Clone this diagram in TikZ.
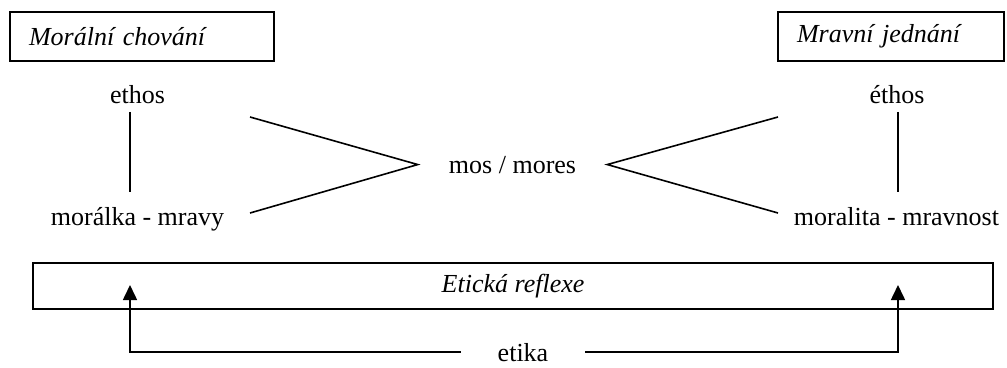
\documentclass[tikz,border=0pt]{standalone}
\usepackage{fontspec}
\setmainfont{Liberation Serif}
\usetikzlibrary{arrows.meta}

\begin{document}
\begin{tikzpicture}[x=1pt, y=-1pt, every node/.style={font=\fontsize{26pt}{31pt}\selectfont}]
    % Styles
    \tikzstyle{frame} = [rectangle, draw=black, line width=1.6pt, align=left, inner xsep=19pt, minimum height=49pt, font=\fontsize{26pt}{31pt}\selectfont\itshape]
    \tikzstyle{word} = [anchor=base]
    \tikzstyle{line} = [line width=1.6pt]
    \tikzstyle{arrow} = [-{Triangle[length=15pt, width=14pt]}, line width=1.6pt]

    \useasboundingbox (0,0) rectangle (1007,367);

    % Frames
    \node[frame, text width=226pt] (chovani) at (142,36.5) {Morální chování};
    \node[frame, text width=188pt] (jednani) at (891,36.5) {Mravní jednání};
    \node[frame, align=center, minimum width=960pt, minimum height=46pt] (reflexe) at (513,286) {Etická reflexe};

    % Words
    \node[word] (ethos) at (137.5,103) {ethos};
    \node[word] (moralka) at (137.5,225) {morálka - mravy};
    \node[word, inner xsep=31pt] (mos) at (512.5,173) {mos / mores};
    \node[word] (ethosR) at (897,103) {éthos};
    \node[word] (moralita) at (896.5,225) {moralita - mravnost};
    \node[word, inner xsep=37pt, inner ysep=0pt] (etika) at (523,361) {etika};

    % Free ends
    \coordinate (tipL) at (130,285);
    \coordinate (tipR) at (898,285);
    \coordinate (endLa) at (250,117);
    \coordinate (endLb) at (250,213);
    \coordinate (endRa) at (778,117);
    \coordinate (endRb) at (778,213);

    % Lines
    \draw[line, shorten <=5pt, shorten >=11pt] (ethos.south -| tipL) -- (moralka.north -| tipL);
    \draw[line, shorten <=5pt, shorten >=11pt] (ethosR.south -| tipR) -- (moralita.north -| tipR);
    \draw[line] (endLa) -- (mos.west) -- (endLb);
    \draw[line] (endRa) -- (mos.east) -- (endRb);

    % Arrows
    \draw[arrow] (etika.west) -| (tipL);
    \draw[arrow] (etika.east) -| (tipR);
\end{tikzpicture}
\end{document}
